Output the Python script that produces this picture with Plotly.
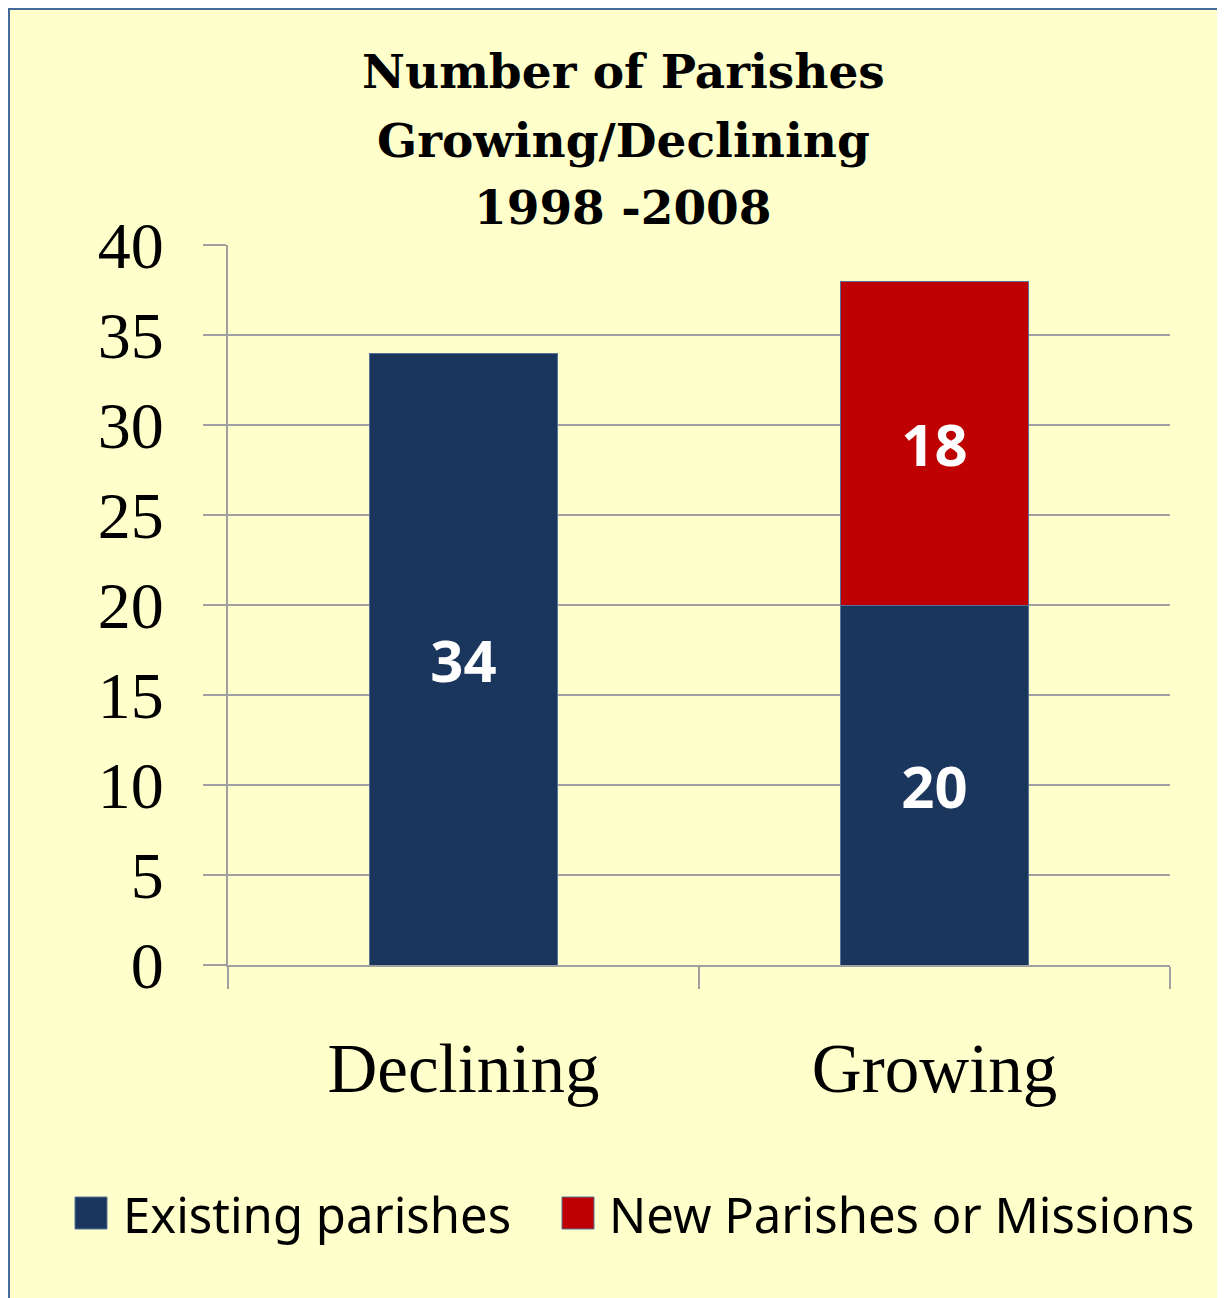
import plotly.graph_objects as go

# chart data
categories = ["Declining", "Growing"]
existing_parishes = [34, 20]
new_parishes = [None, 18]
series_names = ["Existing parishes", "New Parishes or Missions"]
title_lines = ["Number of Parishes", "Growing/Declining", "1998 -2008"]
y_ticks = [0, 5, 10, 15, 20, 25, 30, 35, 40]

BLUE = "#1B365D"
RED = "#BE0000"
BG = "#FFFFCC"
GRID = "#A0A0A0"

# the page puts the figure 8px in from the top-left corner
OFF = 8
W, H = 1225, 1298
L, T = 228 - OFF, 245 - OFF
R, B = W - (1170 - OFF), H - (965 - OFF)
PW, PH = W - L - R, H - T - B


def px_x(px):
    return (px - OFF - L) / PW


def px_y(py):
    return (H - B - (py - OFF)) / PH


fig = go.Figure()
fig.add_trace(go.Bar(
    x=categories, y=existing_parishes, name=series_names[0],
    marker=dict(color=BLUE, line=dict(color="#56739A", width=1)),
    width=0.4, texttemplate="%{y}", textposition="inside",
    insidetextanchor="middle",
    textfont=dict(family="Noto Sans", size=58, color="white", weight="bold"),
    showlegend=False,
))
fig.add_trace(go.Bar(
    x=categories, y=new_parishes, name=series_names[1],
    marker=dict(color=RED, line=dict(color="#56739A", width=1)),
    width=0.4, texttemplate="%{y}", textposition="inside",
    insidetextanchor="middle",
    textfont=dict(family="Noto Sans", size=58, color="white", weight="bold"),
    showlegend=False,
))

shapes = [
    # panel
    dict(type="rect", xref="paper", yref="paper", layer="below",
         x0=px_x(9), x1=px_x(W + 40), y0=px_y(H + 40), y1=px_y(9),
         fillcolor=BG, line=dict(color="#46699C", width=2)),
]
annotations = []

# title, one line per annotation
for i, line in enumerate(title_lines):
    annotations.append(dict(
        text=line, xref="paper", yref="paper", x=px_x(623), y=px_y(72 + 68 * i),
        xanchor="center", yanchor="middle", showarrow=False,
        font=dict(family="DejaVu Serif", size=47, color="black", weight="bold"),
    ))

# legend drawn by hand so the swatches can be large
legend_items = [(series_names[0], BLUE, 75, 121), (series_names[1], RED, 562, 607)]
for name, color, sx, tx in legend_items:
    shapes.append(dict(type="rect", xref="paper", yref="paper",
                       x0=px_x(sx), x1=px_x(sx + 32), y0=px_y(1229), y1=px_y(1197),
                       fillcolor=color, line=dict(color="#56739A", width=1)))
    annotations.append(dict(
        text=name, xref="paper", yref="paper", x=px_x(tx), y=px_y(1214),
        xanchor="left", yanchor="middle", showarrow=False,
        font=dict(family="Noto Sans", size=49, color="black"),
    ))

fig.update_layout(
    width=W, height=H,
    margin=dict(l=L, r=R, t=T, b=B, pad=0),
    paper_bgcolor="white", plot_bgcolor=BG,
    barmode="stack", showlegend=False,
    shapes=shapes, annotations=annotations,
    xaxis=dict(
        range=[-0.5, 1.5], tickson="boundaries", ticks="outside", ticklen=22,
        tickwidth=2, tickcolor=GRID, showline=True, linecolor=GRID, linewidth=2,
        showgrid=False, ticklabelstandoff=42,
        tickfont=dict(family="Liberation Serif", size=69, color="black"),
    ),
    yaxis=dict(
        range=[0, 40], tickvals=y_ticks, ticks="outside", ticklen=23,
        tickwidth=2, tickcolor=GRID, showline=True, linecolor=GRID, linewidth=2,
        showgrid=True, gridcolor=GRID, gridwidth=1.5, zeroline=False,
        ticklabelstandoff=26,
        tickfont=dict(family="Liberation Serif", size=66, color="black"),
    ),
)

fig.write_html("out.html")
